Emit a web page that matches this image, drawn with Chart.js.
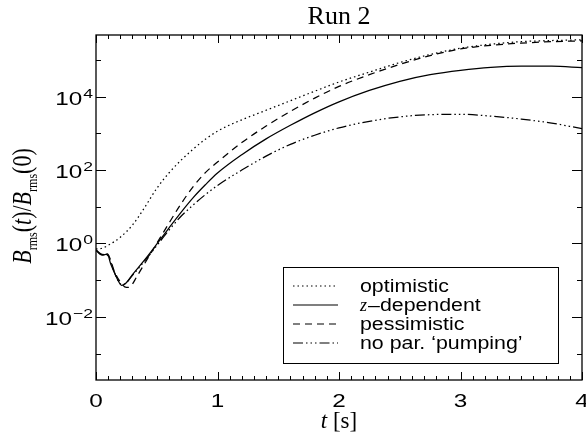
<!DOCTYPE html>
<html>
<head>
<meta charset="utf-8">
<script src="https://cdn.jsdelivr.net/npm/chart.js@4/dist/chart.umd.min.js"></script>
<style>
  html, body { margin: 0; padding: 0; background: #fff; }
</style>
</head>
<body>
<canvas id="runChart" width="586" height="438"></canvas>
<script>
// values (t in s, B_rms(t)/B_rms(0))
const tOpt = [0, 0.05, 0.1, 0.15, 0.2, 0.3, 0.4, 0.5, 0.6, 0.7, 0.8, 0.9, 1.0, 1.1, 1.2, 1.4, 1.6, 1.8, 2.0, 2.25, 2.5, 2.75, 3.0, 3.25, 3.5, 3.75, 4.0];
const bOpt = [0.708, 0.741, 0.891, 1.122, 1.479, 3.162, 9.55, 31.6, 83.2, 186, 372, 692, 1148, 1698, 2344, 4266, 7762, 14125, 25119, 46774, 85114, 141254, 208930, 269153, 316228, 338844, 354813];

const tZdep = [0, 0.03, 0.05, 0.08, 0.1, 0.12, 0.15, 0.18, 0.21, 0.24, 0.3, 0.4, 0.5, 0.6, 0.7, 0.8, 0.9, 1.0, 1.2, 1.4, 1.6, 1.8, 2.0, 2.25, 2.5, 2.75, 3.0, 3.25, 3.5, 3.75, 4.0];
const bZdep = [0.661, 0.525, 0.479, 0.501, 0.468, 0.282, 0.166, 0.1, 0.0724, 0.0794, 0.141, 0.355, 0.955, 2.63, 7.08, 17.8, 39.8, 83.2, 263, 708, 1660, 3631, 7244, 14791, 26303, 39811, 52481, 63096, 67608, 67608, 61660];

const tPess = [0, 0.03, 0.05, 0.08, 0.1, 0.12, 0.15, 0.2, 0.25, 0.28, 0.34, 0.4, 0.5, 0.6, 0.7, 0.8, 0.9, 1.0, 1.2, 1.4, 1.6, 1.8, 2.0, 2.25, 2.5, 2.75, 3.0, 3.25, 3.5, 3.75, 4.0];
const bPess = [0.661, 0.55, 0.501, 0.525, 0.501, 0.355, 0.178, 0.0891, 0.0631, 0.0661, 0.132, 0.282, 1.0, 3.55, 12.0, 35.5, 85.1, 166, 562, 1585, 3981, 9120, 19055, 39811, 75858, 131826, 199526, 251189, 288403, 316228, 331131];

const tNoPump = [0, 0.03, 0.05, 0.08, 0.1, 0.12, 0.15, 0.18, 0.21, 0.24, 0.3, 0.4, 0.5, 0.6, 0.7, 0.8, 0.9, 1.0, 1.2, 1.4, 1.6, 1.8, 2.0, 2.25, 2.5, 2.75, 3.0, 3.25, 3.5, 3.75, 4.0];
const bNoPump = [0.661, 0.525, 0.501, 0.49, 0.468, 0.316, 0.166, 0.1, 0.0759, 0.0794, 0.135, 0.331, 0.871, 2.29, 5.5, 11.2, 21.4, 38, 100, 240, 501, 891, 1413, 2138, 2818, 3236, 3311, 2951, 2455, 1905, 1349];

const seriesNames = ["optimistic", "z-dependent", "pessimistic", "no par. \u2018pumping\u2019"];
const xTickLabels = [0, 1, 2, 3, 4];
const yTickExps = [-2, 0, 2, 4];

const SANS = '"Liberation Sans", Arial, Helvetica, sans-serif';
const SERIF = '"Liberation Serif", "Times New Roman", serif';

function pts(ts, bs) {
    return ts.map((t, i) => ({ x: t, y: bs[i] }));
}

// text drawn wider than the font, like the original figure
function wideText(ctx, txt, x, y, sx, align) {
    ctx.save();
    ctx.translate(x, y);
    ctx.scale(sx, 1);
    ctx.textAlign = align;
    ctx.textBaseline = 'alphabetic';
    ctx.fillText(txt, 0, 0);
    ctx.restore();
}

const dashes = [[1.5, 3], [], [7, 5], [10, 3, 1.5, 3, 1.5, 3, 1.5, 3]];

const decorations = {
    id: 'decorations',
    afterDatasetsDraw(chart) {
        const ctx = chart.ctx;
        const a = chart.chartArea;
        const xs = chart.scales.x;
        const ys = chart.scales.y;
        ctx.save();
        ctx.strokeStyle = '#000';
        ctx.fillStyle = '#000';
        ctx.lineWidth = 1.3;
        ctx.setLineDash([]);
        ctx.strokeRect(a.left, a.top, a.right - a.left, a.bottom - a.top);

        // inward ticks
        ctx.lineWidth = 1;
        ctx.beginPath();
        for (let k = 0; k <= 40; k++) {
            const px = Math.round(xs.getPixelForValue(k / 10)) + 0.5;
            const len = k % 10 === 0 ? 8 : 4;
            ctx.moveTo(px, a.bottom); ctx.lineTo(px, a.bottom - len);
            ctx.moveTo(px, a.top); ctx.lineTo(px, a.top + len);
        }
        for (let e = -3; e <= 5; e++) {
            const py = Math.round(ys.getPixelForValue(Math.pow(10, e))) + 0.5;
            const len = e % 2 === 0 ? 10 : 5;
            ctx.moveTo(a.left, py); ctx.lineTo(a.left + len, py);
            ctx.moveTo(a.right, py); ctx.lineTo(a.right - len, py);
        }
        ctx.stroke();

        // x tick labels
        ctx.font = '18px ' + SANS;
        xTickLabels.forEach(v => {
            wideText(ctx, String(v), xs.getPixelForValue(v), 407, 1.35, 'center');
        });

        // y tick labels 10^n
        yTickExps.forEach(e => {
            const py = ys.getPixelForValue(Math.pow(10, e));
            const sup = e < 0 ? '\u2212' + (-e) : String(e);
            ctx.font = '13px ' + SANS;
            const supW = ctx.measureText(sup).width * 1.35;
            wideText(ctx, sup, 93, py + 1, 1.35, 'right');
            ctx.font = '18px ' + SANS;
            wideText(ctx, '10', 92 - supW, py + 8, 1.35, 'right');
        });

        // title
        ctx.font = '26px ' + SERIF;
        ctx.textAlign = 'center';
        ctx.fillText('Run 2', (a.left + a.right) / 2, 24);

        // x axis title: t [s]
        ctx.textAlign = 'left';
        ctx.font = 'italic 23px ' + SERIF;
        const wt = ctx.measureText('t').width;
        ctx.font = '23px ' + SERIF;
        const ws = ctx.measureText(' [s]').width;
        let x0 = (a.left + a.right) / 2 - (wt + ws) / 2;
        ctx.font = 'italic 23px ' + SERIF;
        ctx.fillText('t', x0, 428);
        ctx.font = '23px ' + SERIF;
        ctx.fillText(' [s]', x0 + wt, 428);

        // y axis title: B_rms(t)/B_rms(0)
        const parts = [
            { s: 'B', f: 'italic 22px ' + SERIF, dy: 0 },
            { s: 'rms', f: '12px ' + SERIF, dy: 5 },
            { s: '(', f: '22px ' + SERIF, dy: 0 },
            { s: 't', f: 'italic 22px ' + SERIF, dy: 0 },
            { s: ')/', f: '22px ' + SERIF, dy: 0 },
            { s: 'B', f: 'italic 22px ' + SERIF, dy: 0 },
            { s: 'rms', f: '12px ' + SERIF, dy: 5 },
            { s: '(0)', f: '22px ' + SERIF, dy: 0 }
        ];
        let total = 0;
        parts.forEach(p => { ctx.font = p.f; p.w = ctx.measureText(p.s).width; total += p.w; });
        ctx.save();
        ctx.translate(31, 206);
        ctx.rotate(-Math.PI / 2);
        ctx.scale(1, 1.25);
        let cx = -total / 2;
        parts.forEach(p => {
            ctx.font = p.f;
            ctx.fillText(p.s, cx, p.dy);
            cx += p.w;
        });
        ctx.restore();

        // legend box
        ctx.lineWidth = 1;
        ctx.strokeRect(283.5, 267.5, 275, 96);
        const rows = [286, 305, 324, 343];
        rows.forEach((ry, i) => {
            ctx.beginPath();
            ctx.setLineDash(dashes[i]);
            ctx.lineWidth = 1.2;
            ctx.moveTo(293, ry);
            ctx.lineTo(338, ry);
            ctx.stroke();
            ctx.setLineDash([]);
            const name = seriesNames[i];
            if (name.startsWith('z')) {
                ctx.font = 'italic 18px ' + SERIF;
                ctx.textAlign = 'left';
                ctx.fillText('z', 360, ry + 6);
                const zw = ctx.measureText('z').width;
                ctx.font = '17.5px ' + SANS;
                wideText(ctx, '\u2013' + name.slice(2), 360 + zw + 1, ry + 6, 1.22, 'left');
            } else {
                ctx.font = '17.5px ' + SANS;
                wideText(ctx, name, 360, ry + 6, 1.22, 'left');
            }
        });
        ctx.restore();
    }
};

const lineStyle = (label, data, dash) => ({
    label: label,
    data: data,
    borderColor: '#000',
    backgroundColor: '#000',
    borderWidth: 1.25,
    borderDash: dash,
    pointRadius: 0,
    fill: false,
    cubicInterpolationMode: 'monotone'
});

new Chart(document.getElementById('runChart').getContext('2d'), {
    type: 'line',
    data: {
        datasets: [
            lineStyle(seriesNames[0], pts(tOpt, bOpt), dashes[0]),
            lineStyle(seriesNames[1], pts(tZdep, bZdep), dashes[1]),
            lineStyle(seriesNames[2], pts(tPess, bPess), dashes[2]),
            lineStyle(seriesNames[3], pts(tNoPump, bNoPump), dashes[3])
        ]
    },
    options: {
        responsive: false,
        animation: false,
        devicePixelRatio: 1,
        layout: { padding: { left: 96, top: 35, right: 4, bottom: 58 } },
        scales: {
            x: { type: 'linear', min: 0, max: 4, display: false },
            y: { type: 'logarithmic', min: 1.9e-4, max: 4.8e5, display: false }
        },
        plugins: {
            legend: { display: false },
            tooltip: { enabled: false }
        }
    },
    plugins: [decorations]
});
</script>
</body>
</html>
